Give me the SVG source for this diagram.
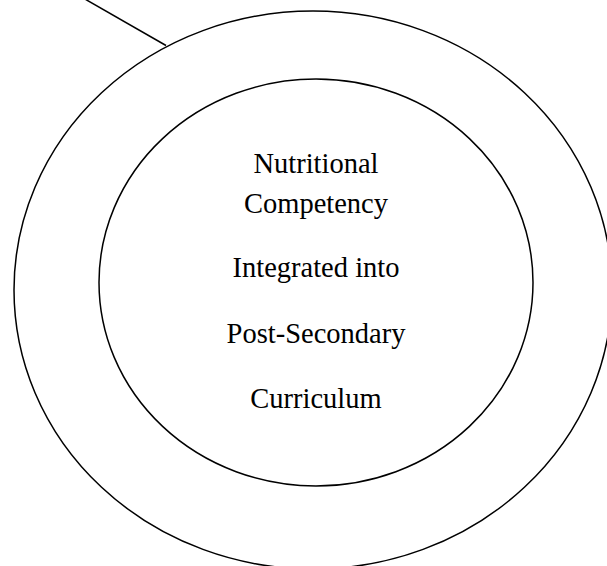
<svg xmlns="http://www.w3.org/2000/svg" width="607" height="566" viewBox="0 0 607 566">
  <style>
    .shape { fill: none; stroke: #000; stroke-width: 1.5; }
    .label { font-family: "Liberation Serif", "Times New Roman", serif; font-size: 28.5px; fill: #000; text-anchor: middle; }
  </style>
  <rect x="0" y="0" width="607" height="566" fill="#fff"/>
  <g id="connectors">
    <line class="shape" x1="84" y1="-1.5" x2="166" y2="45.5"/>
  </g>
  <g id="outer">
    <ellipse class="shape" cx="313" cy="290" rx="299" ry="279"/>
  </g>
  <g id="inner">
    <ellipse class="shape" cx="316" cy="282.5" rx="217" ry="203.5"/>
    <text class="label" x="316" y="172.7">Nutritional</text>
    <text class="label" x="316" y="213">Competency</text>
    <text class="label" x="316" y="277">Integrated into</text>
    <text class="label" x="316" y="342.7">Post-Secondary</text>
    <text class="label" x="316" y="408.3">Curriculum</text>
  </g>
</svg>
